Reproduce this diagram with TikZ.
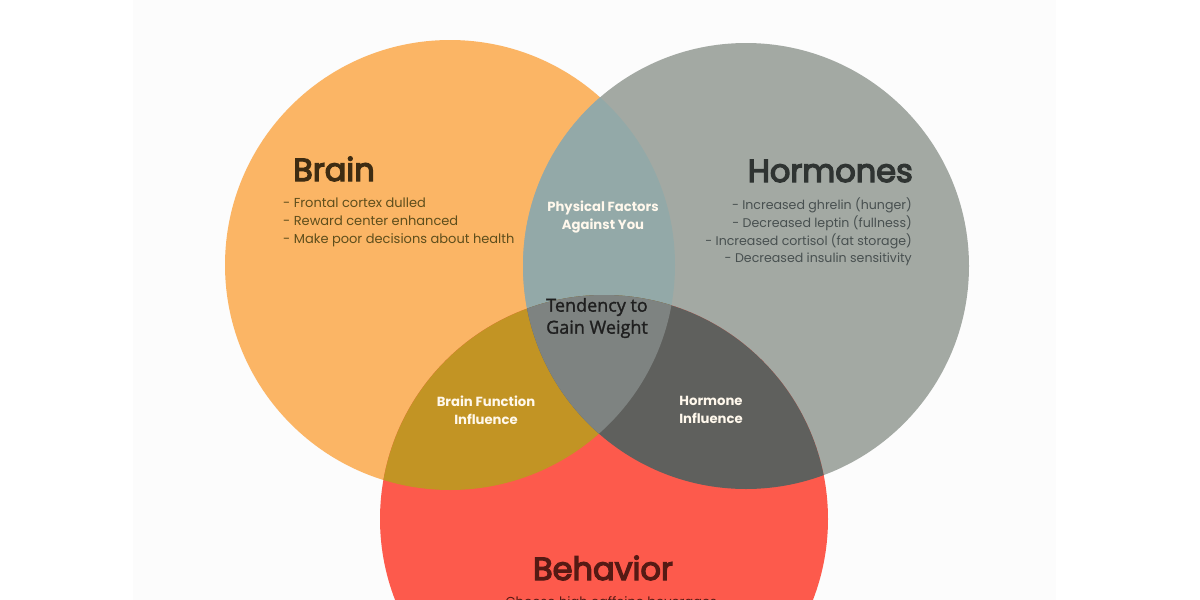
\documentclass[tikz,border=0pt]{standalone}
\usepackage{fontspec}
\setmainfont{Poppins}
\newfontfamily\tendf{Open Sans}[FakeBold=1.5]
\newfontfamily\titlef{Poppins}[FakeBold=4]
\definecolor{bgpanel}{HTML}{FCFCFC}
\definecolor{brainc}{HTML}{FBB565}
\definecolor{hormc}{HTML}{A3A9A3}
\definecolor{behavc}{HTML}{FD5A4C}
\definecolor{bhc}{HTML}{93A9A8}
\definecolor{bbc}{HTML}{C29424}
\definecolor{hbc}{HTML}{5F605D}
\definecolor{allc}{HTML}{7E8381}
\definecolor{braintxt}{HTML}{3E2C12}
\definecolor{brainlist}{HTML}{5E4E1C}
\definecolor{hormtxt}{HTML}{2F3432}
\definecolor{hormlist}{HTML}{485050}
\definecolor{behavtxt}{HTML}{551A14}
\definecolor{whitetxt}{HTML}{FFF8EC}
\begin{document}
\begin{tikzpicture}[x=1pt,y=-1pt,
  title/.style={font=\titlef\fontsize{32}{36}\selectfont, inner sep=0pt},
  listtxt/.style={font=\fontsize{13}{17.6}\selectfont, inner sep=0pt},
  hlisttxt/.style={font=\fontsize{12.6}{17.6}\selectfont, inner sep=0pt},
  overlap/.style={font=\fontsize{13.2}{18}\selectfont\bfseries, text=whitetxt, align=center, inner sep=0pt},
  tend/.style={font=\tendf\fontsize{18}{22}\selectfont, text=black!88, align=center, inner sep=0pt}]
\useasboundingbox (0,0) rectangle (1200,600);
\fill[white] (0,0) rectangle (1200,600);
\fill[bgpanel] (133,0) rectangle (1056,600);
\def\brainpath{(450,265) circle [radius=225]}
\def\hormpath{(746,266) circle [radius=223]}
\def\behavpath{(604,519) circle [radius=224]}
\fill[brainc] \brainpath;
\fill[hormc] \hormpath;
\fill[behavc] \behavpath;
\begin{scope}\clip \brainpath; \fill[bhc] \hormpath; \end{scope}
\begin{scope}\clip \brainpath; \fill[bbc] \behavpath; \end{scope}
\begin{scope}\clip \hormpath; \fill[hbc] \behavpath; \end{scope}
\begin{scope}\clip \brainpath; \clip \hormpath; \fill[allc] \behavpath; \end{scope}

\node[title, text=braintxt, anchor=base west] (brain) at (293,181) {Brain};
\node[listtxt, text=brainlist, anchor=north west, align=left] (brainlist) at (283,198)
  {- Frontal cortex dulled\\- Reward center enhanced\\- Make poor decisions about health};
\node[title, text=hormtxt, anchor=base east] (horm) at (913,182) {Hormones};
\node[hlisttxt, text=hormlist, anchor=north east, align=right] (hormlist) at (912,198)
  {- Increased ghrelin (hunger)\\- Decreased leptin (fullness)\\- Increased cortisol (fat storage)\\- Decreased insulin sensitivity};
\node[title, text=behavtxt, anchor=base] (behav) at (603,580) {Behavior};
\node[listtxt, text=behavtxt, anchor=north] (behavlist) at (606,596) {- Choose high caffeine beverages};

\node[overlap] (phys) at (603,217) {Physical Factors\\Against You};
\node[tend] (tendency) at (597,318) {Tendency to\\Gain Weight};
\node[overlap] (bfi) at (486,410) {Brain Function\\Influence};
\node[overlap] (hi) at (711,410) {Hormone\\Influence};
\end{tikzpicture}
\end{document}
